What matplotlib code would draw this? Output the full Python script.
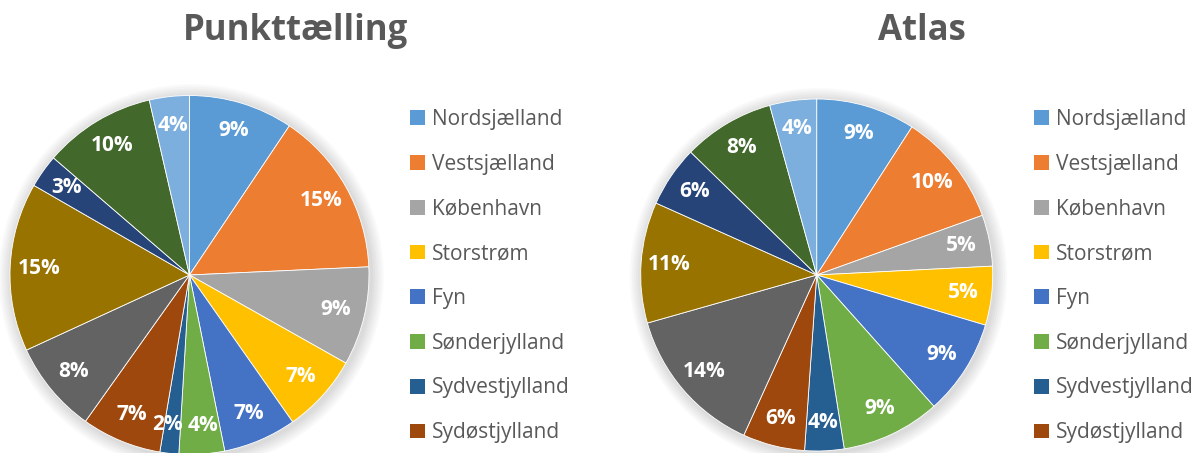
import numpy as np
import matplotlib
matplotlib.use("Agg")
from matplotlib import pyplot
from matplotlib.patches import Patch, Circle

# regioner (de sidste fem er skåret af i forlægget)
regions = ["Nordsjælland", "Vestsjælland", "København", "Storstrøm", "Fyn",
           "Sønderjylland", "Sydvestjylland", "Sydøstjylland", "Midtjylland",
           "Vestjylland", "Østjylland", "Nordjylland", "Bornholm"]

# andele i procent
punkt_values = [9.4, 14.9, 8.9, 7.1, 6.6, 4.1, 1.7, 7.2, 8.3, 15.2, 3.0, 10.1, 3.6]
atlas_values = [9.1, 10.4, 4.7, 5.4, 8.8, 9.1, 3.6, 5.7, 13.8, 11.1, 5.6, 8.4, 4.3]

colors = ["#5B9BD5", "#ED7D31", "#A5A5A5", "#FFC000", "#4472C4", "#70AD47",
          "#255E91", "#9E480E", "#636363", "#997300", "#264478", "#43682B",
          "#7CAFDD"]

W, H = 1195, 453
fig = pyplot.figure(figsize=(W / 100, H / 100), dpi=100)
fig.patch.set_facecolor("white")

pyplot.rcParams["font.family"] = ["Open Sans", "DejaVu Sans"]
text_gray = "#595959"


def make_pie(cx, cy, r, values, title, title_x, leg_x, nudge=None):
    # akse placeret i pixels, så radius passer
    ax = fig.add_axes([(cx - r) / W, (H - cy - r) / H, 2 * r / W, 2 * r / H])
    ax.set_xlim(-1, 1)
    ax.set_ylim(-1, 1)
    ax.axis("off")

    # svag skygge omkring lagkagen
    for k in range(6):
        ax.add_patch(Circle((0.01, -0.01), 1.0 + 0.012 * (k + 1), color="#000000",
                            alpha=0.025, lw=0, clip_on=False))

    wedges, texts, autotexts = ax.pie(values, colors=colors, startangle=90,
                                      counterclock=False, radius=1,
                                      autopct="%.0f%%", pctdistance=0.84,
                                      wedgeprops=dict(linewidth=0.6, edgecolor="white"),
                                      textprops=dict(color="white", fontsize=15,
                                                     fontweight="bold"))
    # små skiver: skub etiketterne lidt fra hinanden
    if nudge:
        for i, dx in nudge.items():
            x, y = autotexts[i].get_position()
            autotexts[i].set_position((x + dx, y))
    ax.set_xlim(-1, 1)
    ax.set_ylim(-1, 1)

    fig.text(title_x / W, 1 - 31 / H, title, ha="center", va="center",
             fontsize=25, fontweight="bold", color=text_gray)

    handles = [Patch(facecolor=colors[i], edgecolor="none") for i in range(8)]
    fig.legend(handles, regions[:8], loc="upper left",
               bbox_to_anchor=(leg_x / W, 1 - 109 / H), frameon=False,
               fontsize=15, labelcolor=text_gray, handlelength=0.7,
               handleheight=0.7, handletextpad=0.35, labelspacing=1.14,
               borderpad=0, borderaxespad=0)


make_pie(189.5, 275, 179.5, punkt_values, "Punkttælling", 295, 410,
         nudge={5: 0.02, 6: -0.03})
make_pie(816.7, 275, 176, atlas_values, "Atlas", 922, 1034)

fig.savefig("out.png", dpi=100)
